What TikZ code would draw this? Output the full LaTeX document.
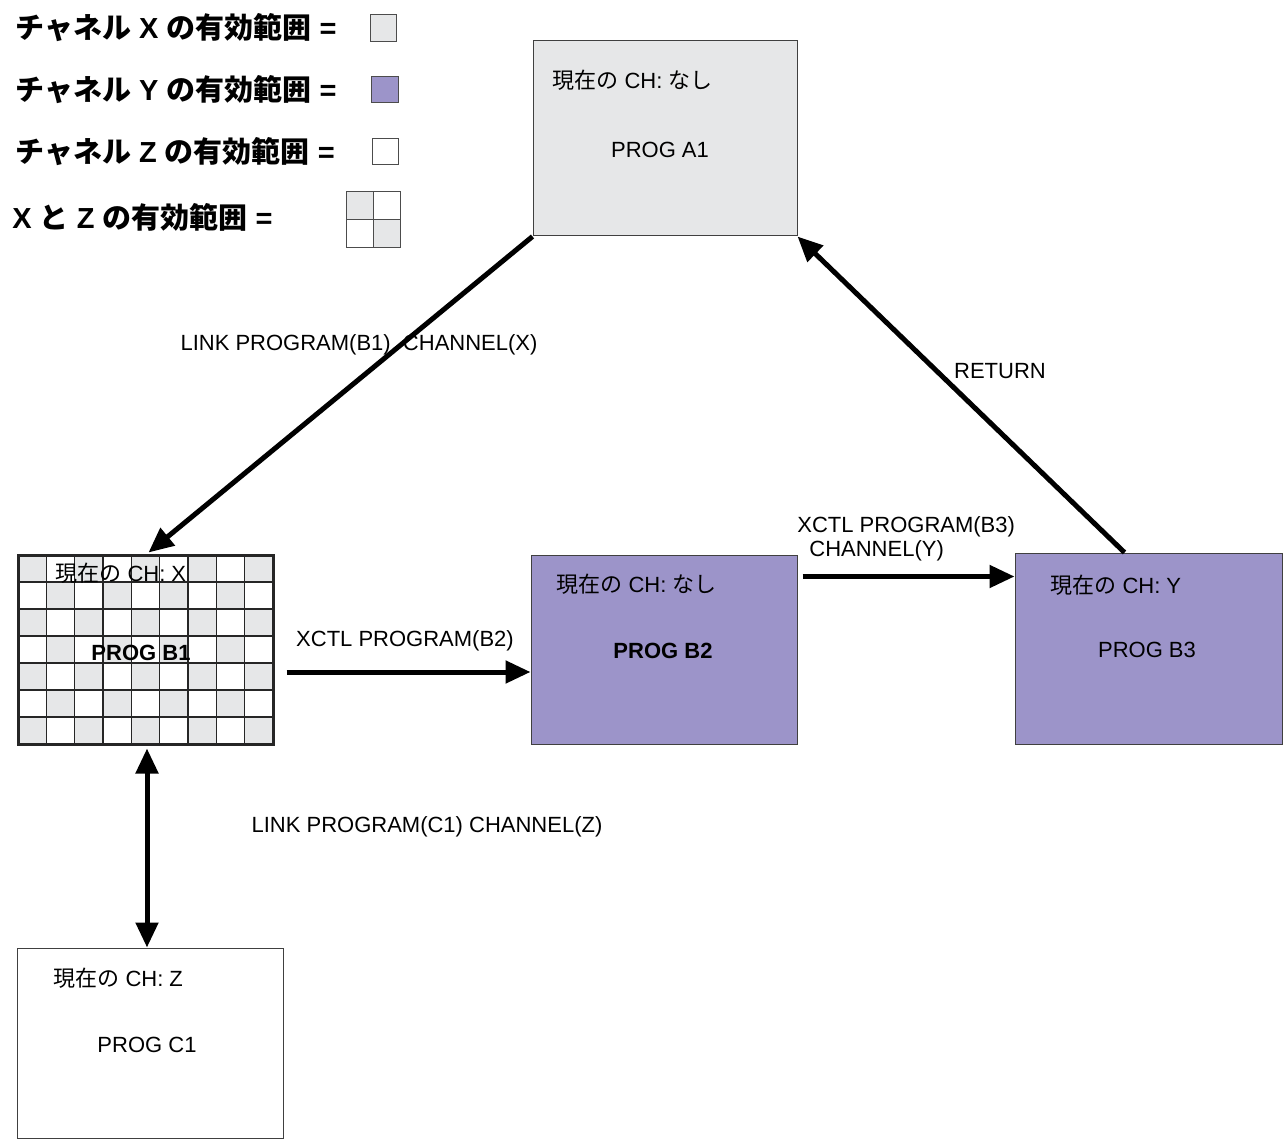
\documentclass[tikz,border=0pt]{standalone}
\usepackage{fontspec}
\setmainfont{Liberation Sans}
\newfontfamily\jp{Noto Sans CJK JP}
\usetikzlibrary{calc,arrows.meta}
\definecolor{chx}{HTML}{E6E7E8}
\definecolor{chy}{HTML}{9C94C9}
\def\curch#1{{\jp 現在の} CH: #1}

\tikzset{
	prog/.style={draw=black!75, line width=0.5pt, inner sep=0pt},
	cell/.style={draw=black!85, line width=0.8pt},
	conn/.style={line width=2.5pt, -{Triangle[length=12.5pt,width=11pt]}},
	lbl/.style={font=\fontsize{11}{12}\selectfont, inner sep=0pt},
	leg/.style={font=\fontsize{14.5}{16}\selectfont\bfseries, anchor=west, inner sep=0pt},
	swatch/.style={draw=black!70, line width=0.5pt}
}

\begin{document}
\begin{tikzpicture}[x=0.5pt, y=-0.5pt]
		%%%%% START %%%%%
		\useasboundingbox (0, 0) rectangle (1286, 1139);
		
		% legend
		\node[leg] (legx) at (15, 28) {{\jp チャネル} X {\jp の有効範囲} =};
		\node[leg] (legy) at (15, 90) {{\jp チャネル} Y {\jp の有効範囲} =};
		\node[leg] (legz) at (15, 152) {{\jp チャネル} Z {\jp の有効範囲} =};
		\node[leg] (legxz) at (12, 217) {X {\jp と} Z {\jp の有効範囲} =};
		\draw[swatch, fill=chx] (370, 15) rectangle (396, 42);
		\draw[swatch, fill=chy] (371, 77) rectangle (398, 103);
		\draw[swatch, fill=white] (372, 139) rectangle (398, 165);
		\draw[swatch, fill=chx] (346, 192) rectangle (373, 220);
		\draw[swatch, fill=white] (373, 192) rectangle (400, 220);
		\draw[swatch, fill=white] (346, 220) rectangle (373, 248);
		\draw[swatch, fill=chx] (373, 220) rectangle (400, 248);
		
		% programs
		\node[prog, fill=chx, minimum width=132pt, minimum height=97.5pt] (a1) at (665, 138.5) {};
		\node[lbl, anchor=west] (a1ch) at (552, 80) {\curch{{\jp なし}}};
		\node[lbl] (a1name) at (660, 150) {PROG A1};
		
		\foreach \c in {0,...,8}
			\foreach \r in {0,...,6}{
				\pgfmathtruncatemacro\k{\c+\r}
				\ifodd\k \def\cf{white}\else\def\cf{chx}\fi
				\draw[cell, fill=\cf] (18+\c*28.33, 555+\r*27) rectangle ++(28.33, 27);
			}
		\node[prog, draw=black!85, line width=1.5pt, minimum width=127.5pt, minimum height=94.5pt] (b1) at (145.5, 649.5) {};
		\node[lbl, anchor=west] (b1ch) at (55, 573) {\curch{X}};
		\node[lbl, font=\fontsize{11}{12}\selectfont\bfseries] (b1name) at (141, 653) {PROG B1};
		
		\node[prog, fill=chy, minimum width=133pt, minimum height=94.5pt] (b2) at (664, 649.5) {};
		\node[lbl, anchor=west] (b2ch) at (556, 584) {\curch{{\jp なし}}};
		\node[lbl, font=\fontsize{11}{12}\selectfont\bfseries] (b2name) at (663, 651) {PROG B2};
		
		\node[prog, fill=chy, minimum width=133.5pt, minimum height=95.5pt] (b3) at (1148.5, 648.5) {};
		\node[lbl, anchor=west] (b3ch) at (1050, 585) {\curch{Y}};
		\node[lbl] (b3name) at (1147, 650) {PROG B3};
		
		\node[prog, fill=white, minimum width=133pt, minimum height=95pt] (c1) at (150, 1043) {};
		\node[lbl, anchor=west] (c1ch) at (53, 978) {\curch{Z}};
		\node[lbl] (c1name) at (147, 1045) {PROG C1};
		
		% connectors
		\coordinate (b1in) at ($(b1.north west)+(132, -1)$);
		\coordinate (b3out) at ($(b3.north west)+(110, 0)$);
		\coordinate (b1out) at ($(b1.east)+(12, 22.5)$);
		\coordinate (b2in) at (b2.west |- b1out);
		\coordinate (b2out) at ($(b2.north east)+(5, 22)$);
		\coordinate (b3in) at (b3.west |- b2out);
		\coordinate (b1down) at ($(b1.south)+(1.5, 3)$);
		\coordinate (c1up) at (b1down |- c1.north);
		
		\draw[conn] (a1.south west) -- (b1in);
		\draw[conn] (b3out) -- (a1.south east);
		\draw[conn] (b1out) -- (b2in);
		\draw[conn] (b2out) -- (b3in);
		\draw[conn, {Triangle[length=12.5pt,width=11pt]}-{Triangle[length=12.5pt,width=11pt]}] (b1down) -- (c1up);
		
		\node[lbl] (lnkx) at (359, 345) {LINK PROGRAM(B1)\ \ CHANNEL(X)};
		\node[lbl] (ret) at (1000, 371) {RETURN};
		\node[lbl] (xb2) at (405, 641) {XCTL PROGRAM(B2)};
		\node[lbl, anchor=west, align=left, font=\fontsize{11}{12}\selectfont] (xb3) at (797, 539) {XCTL PROGRAM(B3)\\\hspace{6pt}CHANNEL(Y)};
		\node[lbl] (lnkz) at (427, 827) {LINK PROGRAM(C1) CHANNEL(Z)};
		
		%%%%% END %%%%%
	\end{tikzpicture}
\end{document}
